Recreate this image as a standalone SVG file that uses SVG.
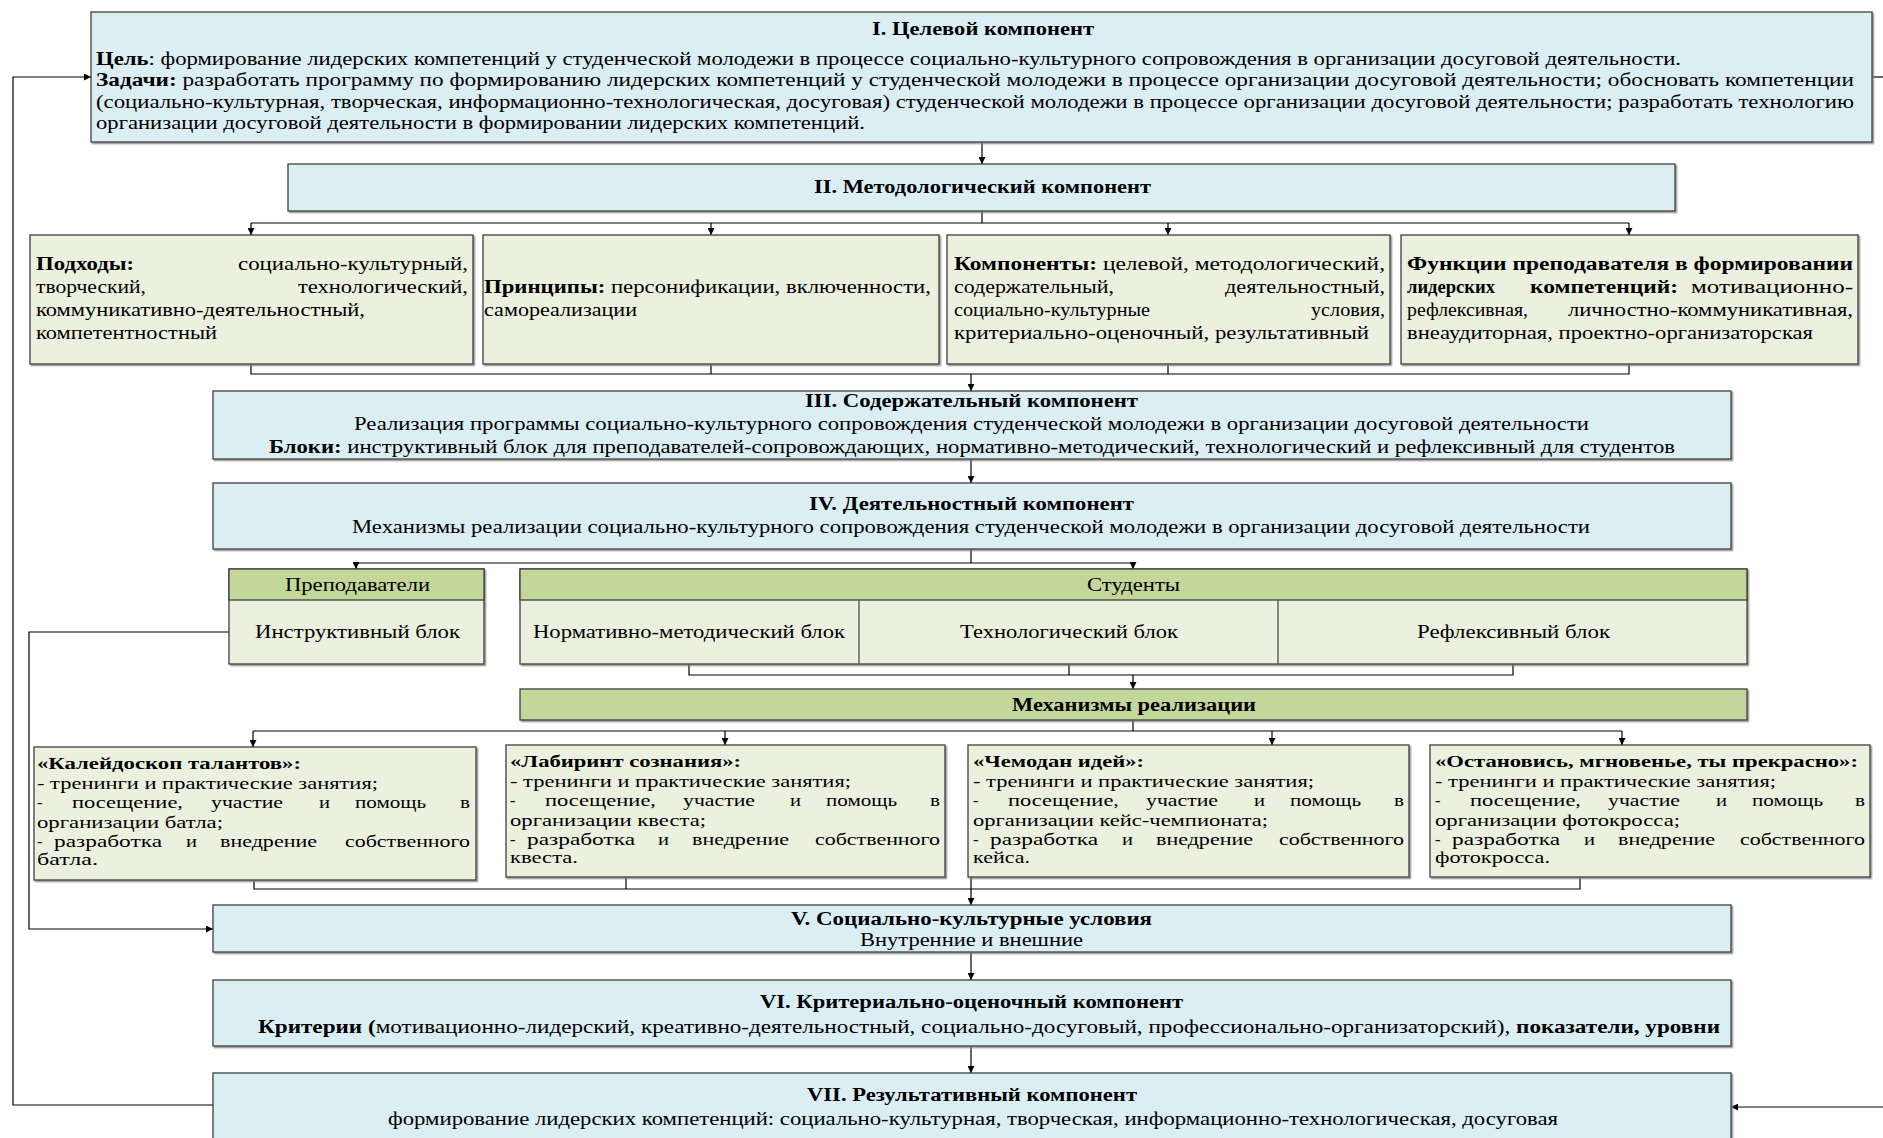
<svg xmlns="http://www.w3.org/2000/svg" width="1883" height="1138" viewBox="0 0 1883 1138">
<defs>
<marker id="ar" viewBox="0 0 8 8" refX="8" refY="4" markerWidth="7" markerHeight="7" markerUnits="userSpaceOnUse" orient="auto">
<path d="M0,0 L8,4 L0,8 z" fill="#000"/>
</marker>
<filter id="sh" x="-2%" y="-5%" width="104%" height="115%">
<feDropShadow dx="1.5" dy="1.5" stdDeviation="0.6" flood-color="#808080" flood-opacity="0.8"/>
</filter>
<style>
.blue{fill:#daeef3;stroke:#3f3f3f;stroke-width:1.3;filter:url(#sh)}
.gl{fill:#ebf1de;stroke:#3f3f3f;stroke-width:1.3;filter:url(#sh)}
.gh{fill:#c4d79b;stroke:#3f3f3f;stroke-width:1.3}
.dv{stroke:#3f3f3f;stroke-width:1.2;fill:none}
.c{fill:none;stroke:#000;stroke-width:1.2}
.a{marker-end:url(#ar)}
text{font-family:"Liberation Serif","Times New Roman",serif;font-size:18.5px;fill:#000}
.b{font-weight:bold}
.m{font-size:16.5px}
</style>
</defs>

<g id="connectors">
<path class="c a" d="M213,1105 H13 V77 H91"/>
<path class="c a" d="M229,632 H29 V929 H213"/>
<path class="c" d="M1872,77 H1883"/>
<path class="c a" d="M1883,1107 H1731"/>
<path class="c a" d="M982,142 V164"/>
<path class="c" d="M982,211 V223 M251,223 H1629"/>
<path class="c a" d="M251,223 V235"/>
<path class="c a" d="M711,223 V235"/>
<path class="c a" d="M1168,223 V235"/>
<path class="c a" d="M1629,223 V235"/>
<path class="c" d="M251,364 V374 H1629 V364 M711,364 V374 M1168,364 V374"/>
<path class="c a" d="M971,374 V391"/>
<path class="c a" d="M971,459 V483"/>
<path class="c" d="M971,549 V563 M356,563 H1133"/>
<path class="c a" d="M356,563 V569"/>
<path class="c a" d="M1133,563 V569"/>
<path class="c" d="M689,664 V675 H1513 V664 M1069,664 V675"/>
<path class="c a" d="M1133,675 V689"/>
<path class="c" d="M1133,720 V731 M253,731 H1622"/>
<path class="c a" d="M253,731 V747"/>
<path class="c a" d="M725,731 V745"/>
<path class="c a" d="M1272,731 V745"/>
<path class="c a" d="M1622,731 V745"/>
<path class="c" d="M254,880 V889 H1580 V877 M626,877 V889"/>
<path class="c a" d="M971,877 V905"/>
<path class="c a" d="M971,952 V980"/>
<path class="c a" d="M971,1046 V1073"/>
</g>

<g id="n1">
<rect class="blue" x="91" y="12" width="1781" height="130"/>
<text class="b" x="872" y="35" textLength="222" lengthAdjust="spacingAndGlyphs">I. Целевой компонент</text>
<text x="96" y="65" textLength="1585" lengthAdjust="spacingAndGlyphs"><tspan class="b">Цель</tspan>: формирование лидерских компетенций у студенческой молодежи в процессе социально-культурного сопровождения в организации досуговой деятельности.</text>
<text x="96" y="86" textLength="1758" lengthAdjust="spacingAndGlyphs"><tspan class="b">Задачи:</tspan> разработать программу по формированию лидерских компетенций у студенческой молодежи в процессе организации досуговой деятельности; обосновать компетенции</text>
<text x="96" y="108" textLength="1758" lengthAdjust="spacingAndGlyphs">(социально-культурная, творческая, информационно-технологическая, досуговая) студенческой молодежи в процессе организации досуговой деятельности; разработать технологию</text>
<text x="96" y="129" textLength="769" lengthAdjust="spacingAndGlyphs">организации досуговой деятельности в формировании лидерских компетенций.</text>
</g>

<g id="n2">
<rect class="blue" x="288" y="164" width="1387" height="47"/>
<text class="b" x="814" y="193" textLength="337" lengthAdjust="spacingAndGlyphs">II. Методологический компонент</text>
</g>

<g id="n2a">
<rect class="gl" x="30" y="235" width="443" height="129"/>
<text class="b" x="36" y="270" textLength="98" lengthAdjust="spacingAndGlyphs">Подходы:</text>
<text x="238" y="270" textLength="230" lengthAdjust="spacingAndGlyphs">социально-культурный,</text>
<text x="36" y="293" textLength="110" lengthAdjust="spacingAndGlyphs">творческий,</text>
<text x="298" y="293" textLength="170" lengthAdjust="spacingAndGlyphs">технологический,</text>
<text x="36" y="316" textLength="329" lengthAdjust="spacingAndGlyphs">коммуникативно-деятельностный,</text>
<text x="36" y="339" textLength="181" lengthAdjust="spacingAndGlyphs">компетентностный</text>
</g>

<g id="n2b">
<rect class="gl" x="483" y="235" width="456" height="129"/>
<text x="484" y="293" textLength="447" lengthAdjust="spacingAndGlyphs"><tspan class="b">Принципы:</tspan> персонификации, включенности,</text>
<text x="484" y="316" textLength="153" lengthAdjust="spacingAndGlyphs">самореализации</text>
</g>

<g id="n2c">
<rect class="gl" x="947" y="235" width="443" height="129"/>
<text x="954" y="270" textLength="431" lengthAdjust="spacingAndGlyphs"><tspan class="b">Компоненты:</tspan> целевой, методологический,</text>
<text x="954" y="293" textLength="160" lengthAdjust="spacingAndGlyphs">содержательный,</text>
<text x="1225" y="293" textLength="160" lengthAdjust="spacingAndGlyphs">деятельностный,</text>
<text x="954" y="316" textLength="196" lengthAdjust="spacingAndGlyphs">социально-культурные</text>
<text x="1311" y="316" textLength="74" lengthAdjust="spacingAndGlyphs">условия,</text>
<text x="954" y="339" textLength="415" lengthAdjust="spacingAndGlyphs">критериально-оценочный, результативный</text>
</g>

<g id="n2d">
<rect class="gl" x="1401" y="235" width="457" height="129"/>
<text class="b" x="1407" y="270" textLength="446" lengthAdjust="spacingAndGlyphs">Функции преподавателя в формировании</text>
<text class="b" x="1407" y="293" textLength="88" lengthAdjust="spacingAndGlyphs">лидерских</text>
<text class="b" x="1530" y="293" textLength="148" lengthAdjust="spacingAndGlyphs">компетенций:</text>
<text x="1691" y="293" textLength="162" lengthAdjust="spacingAndGlyphs">мотивационно-</text>
<text x="1407" y="316" textLength="121" lengthAdjust="spacingAndGlyphs">рефлексивная,</text>
<text x="1568" y="316" textLength="285" lengthAdjust="spacingAndGlyphs">личностно-коммуникативная,</text>
<text x="1407" y="339" textLength="406" lengthAdjust="spacingAndGlyphs">внеаудиторная, проектно-организаторская</text>
</g>

<g id="n3">
<rect class="blue" x="213" y="391" width="1518" height="68"/>
<text class="b" x="805" y="407" textLength="333" lengthAdjust="spacingAndGlyphs">III. Содержательный компонент</text>
<text x="354" y="430" textLength="1235" lengthAdjust="spacingAndGlyphs">Реализация программы социально-культурного сопровождения студенческой молодежи в организации досуговой деятельности</text>
<text x="269" y="453" textLength="1406" lengthAdjust="spacingAndGlyphs"><tspan class="b">Блоки:</tspan> инструктивный блок для преподавателей-сопровождающих, нормативно-методический, технологический и рефлексивный для студентов</text>
</g>

<g id="n4">
<rect class="blue" x="213" y="483" width="1518" height="66"/>
<text class="b" x="809" y="510" textLength="325" lengthAdjust="spacingAndGlyphs">IV. Деятельностный компонент</text>
<text x="352" y="533" textLength="1238" lengthAdjust="spacingAndGlyphs">Механизмы реализации социально-культурного сопровождения студенческой молодежи в организации досуговой деятельности</text>
</g>

<g id="n4a">
<rect class="gl" x="229" y="569" width="255" height="95"/>
<rect class="gh" x="229" y="569" width="255" height="31"/>
<text x="285" y="591" textLength="145" lengthAdjust="spacingAndGlyphs">Преподаватели</text>
<text x="255" y="638" textLength="205" lengthAdjust="spacingAndGlyphs">Инструктивный блок</text>
</g>

<g id="n4b">
<rect class="gl" x="520" y="569" width="1227" height="95"/>
<rect class="gh" x="520" y="569" width="1227" height="31"/>
<path class="dv" d="M859,600 V664 M1278,600 V664"/>
<text x="1087" y="591" textLength="93" lengthAdjust="spacingAndGlyphs">Студенты</text>
<text x="533" y="638" textLength="312" lengthAdjust="spacingAndGlyphs">Нормативно-методический блок</text>
<text x="960" y="638" textLength="218" lengthAdjust="spacingAndGlyphs">Технологический блок</text>
<text x="1417" y="638" textLength="193" lengthAdjust="spacingAndGlyphs">Рефлексивный блок</text>
</g>

<g id="n4c">
<rect class="gh" x="520" y="689" width="1227" height="31" style="filter:url(#sh)"/>
<text class="b" x="1012" y="711" textLength="244" lengthAdjust="spacingAndGlyphs">Механизмы реализации</text>
</g>

<g id="m1">
<rect class="gl" x="34" y="747" width="442" height="133"/>
<text class="b m" x="37" y="769" textLength="264" lengthAdjust="spacingAndGlyphs">«Калейдоскоп талантов»:</text>
<text class="m" x="37" y="789" textLength="341" lengthAdjust="spacingAndGlyphs">- тренинги и практические занятия;</text>
<text class="m" x="37" y="808">-</text>
<text class="m" x="72" y="808" textLength="111" lengthAdjust="spacingAndGlyphs">посещение,</text>
<text class="m" x="211" y="808" textLength="72" lengthAdjust="spacingAndGlyphs">участие</text>
<text class="m" x="319" y="808" textLength="11" lengthAdjust="spacingAndGlyphs">и</text>
<text class="m" x="355" y="808" textLength="71" lengthAdjust="spacingAndGlyphs">помощь</text>
<text class="m" x="460" y="808" textLength="10" lengthAdjust="spacingAndGlyphs">в</text>
<text class="m" x="37" y="828" textLength="186" lengthAdjust="spacingAndGlyphs">организации батла;</text>
<text class="m" x="37" y="847">-</text>
<text class="m" x="54" y="847" textLength="108" lengthAdjust="spacingAndGlyphs">разработка</text>
<text class="m" x="186" y="847" textLength="11" lengthAdjust="spacingAndGlyphs">и</text>
<text class="m" x="220" y="847" textLength="97" lengthAdjust="spacingAndGlyphs">внедрение</text>
<text class="m" x="345" y="847" textLength="125" lengthAdjust="spacingAndGlyphs">собственного</text>
<text class="m" x="37" y="865" textLength="61" lengthAdjust="spacingAndGlyphs">батла.</text>
</g>

<g id="m2">
<rect class="gl" x="506" y="745" width="439" height="132"/>
<text class="b m" x="510" y="767" textLength="231" lengthAdjust="spacingAndGlyphs">«Лабиринт сознания»:</text>
<text class="m" x="510" y="787" textLength="341" lengthAdjust="spacingAndGlyphs">- тренинги и практические занятия;</text>
<text class="m" x="510" y="806">-</text>
<text class="m" x="545" y="806" textLength="111" lengthAdjust="spacingAndGlyphs">посещение,</text>
<text class="m" x="683" y="806" textLength="72" lengthAdjust="spacingAndGlyphs">участие</text>
<text class="m" x="790" y="806" textLength="11" lengthAdjust="spacingAndGlyphs">и</text>
<text class="m" x="826" y="806" textLength="71" lengthAdjust="spacingAndGlyphs">помощь</text>
<text class="m" x="930" y="806" textLength="10" lengthAdjust="spacingAndGlyphs">в</text>
<text class="m" x="510" y="826" textLength="196" lengthAdjust="spacingAndGlyphs">организации квеста;</text>
<text class="m" x="510" y="845">-</text>
<text class="m" x="527" y="845" textLength="108" lengthAdjust="spacingAndGlyphs">разработка</text>
<text class="m" x="658" y="845" textLength="11" lengthAdjust="spacingAndGlyphs">и</text>
<text class="m" x="692" y="845" textLength="97" lengthAdjust="spacingAndGlyphs">внедрение</text>
<text class="m" x="815" y="845" textLength="125" lengthAdjust="spacingAndGlyphs">собственного</text>
<text class="m" x="510" y="863" textLength="68" lengthAdjust="spacingAndGlyphs">квеста.</text>
</g>

<g id="m3">
<rect class="gl" x="968" y="745" width="441" height="132"/>
<text class="b m" x="973" y="767" textLength="171" lengthAdjust="spacingAndGlyphs">«Чемодан идей»:</text>
<text class="m" x="973" y="787" textLength="341" lengthAdjust="spacingAndGlyphs">- тренинги и практические занятия;</text>
<text class="m" x="973" y="806">-</text>
<text class="m" x="1008" y="806" textLength="111" lengthAdjust="spacingAndGlyphs">посещение,</text>
<text class="m" x="1146" y="806" textLength="72" lengthAdjust="spacingAndGlyphs">участие</text>
<text class="m" x="1254" y="806" textLength="11" lengthAdjust="spacingAndGlyphs">и</text>
<text class="m" x="1290" y="806" textLength="71" lengthAdjust="spacingAndGlyphs">помощь</text>
<text class="m" x="1394" y="806" textLength="10" lengthAdjust="spacingAndGlyphs">в</text>
<text class="m" x="973" y="826" textLength="295" lengthAdjust="spacingAndGlyphs">организации кейс-чемпионата;</text>
<text class="m" x="973" y="845">-</text>
<text class="m" x="990" y="845" textLength="108" lengthAdjust="spacingAndGlyphs">разработка</text>
<text class="m" x="1122" y="845" textLength="11" lengthAdjust="spacingAndGlyphs">и</text>
<text class="m" x="1156" y="845" textLength="97" lengthAdjust="spacingAndGlyphs">внедрение</text>
<text class="m" x="1279" y="845" textLength="125" lengthAdjust="spacingAndGlyphs">собственного</text>
<text class="m" x="973" y="863" textLength="57" lengthAdjust="spacingAndGlyphs">кейса.</text>
</g>

<g id="m4">
<rect class="gl" x="1430" y="745" width="440" height="132"/>
<text class="b m" x="1435" y="767" textLength="423" lengthAdjust="spacingAndGlyphs">«Остановись, мгновенье, ты прекрасно»:</text>
<text class="m" x="1435" y="787" textLength="341" lengthAdjust="spacingAndGlyphs">- тренинги и практические занятия;</text>
<text class="m" x="1435" y="806">-</text>
<text class="m" x="1470" y="806" textLength="111" lengthAdjust="spacingAndGlyphs">посещение,</text>
<text class="m" x="1608" y="806" textLength="72" lengthAdjust="spacingAndGlyphs">участие</text>
<text class="m" x="1716" y="806" textLength="11" lengthAdjust="spacingAndGlyphs">и</text>
<text class="m" x="1752" y="806" textLength="71" lengthAdjust="spacingAndGlyphs">помощь</text>
<text class="m" x="1855" y="806" textLength="10" lengthAdjust="spacingAndGlyphs">в</text>
<text class="m" x="1435" y="826" textLength="245" lengthAdjust="spacingAndGlyphs">организации фотокросса;</text>
<text class="m" x="1435" y="845">-</text>
<text class="m" x="1452" y="845" textLength="108" lengthAdjust="spacingAndGlyphs">разработка</text>
<text class="m" x="1584" y="845" textLength="11" lengthAdjust="spacingAndGlyphs">и</text>
<text class="m" x="1618" y="845" textLength="97" lengthAdjust="spacingAndGlyphs">внедрение</text>
<text class="m" x="1740" y="845" textLength="125" lengthAdjust="spacingAndGlyphs">собственного</text>
<text class="m" x="1435" y="863" textLength="115" lengthAdjust="spacingAndGlyphs">фотокросса.</text>
</g>

<g id="n5">
<rect class="blue" x="213" y="905" width="1518" height="47"/>
<text class="b" x="791" y="925" textLength="361" lengthAdjust="spacingAndGlyphs">V. Социально-культурные условия</text>
<text x="860" y="946" textLength="223" lengthAdjust="spacingAndGlyphs">Внутренние и внешние</text>
</g>

<g id="n6">
<rect class="blue" x="213" y="980" width="1518" height="66"/>
<text class="b" x="760" y="1008" textLength="423" lengthAdjust="spacingAndGlyphs">VI. Критериально-оценочный компонент</text>
<text x="258" y="1033" textLength="1462" lengthAdjust="spacingAndGlyphs"><tspan class="b">Критерии (</tspan>мотивационно-лидерский, креативно-деятельностный, социально-досуговый, профессионально-организаторский), <tspan class="b">показатели, уровни</tspan></text>
</g>

<g id="n7">
<rect class="blue" x="213" y="1073" width="1518" height="70"/>
<text class="b" x="807" y="1101" textLength="330" lengthAdjust="spacingAndGlyphs">VII. Результативный компонент</text>
<text x="388" y="1125" textLength="1170" lengthAdjust="spacingAndGlyphs">формирование лидерских компетенций: социально-культурная, творческая, информационно-технологическая, досуговая</text>
</g>
</svg>
